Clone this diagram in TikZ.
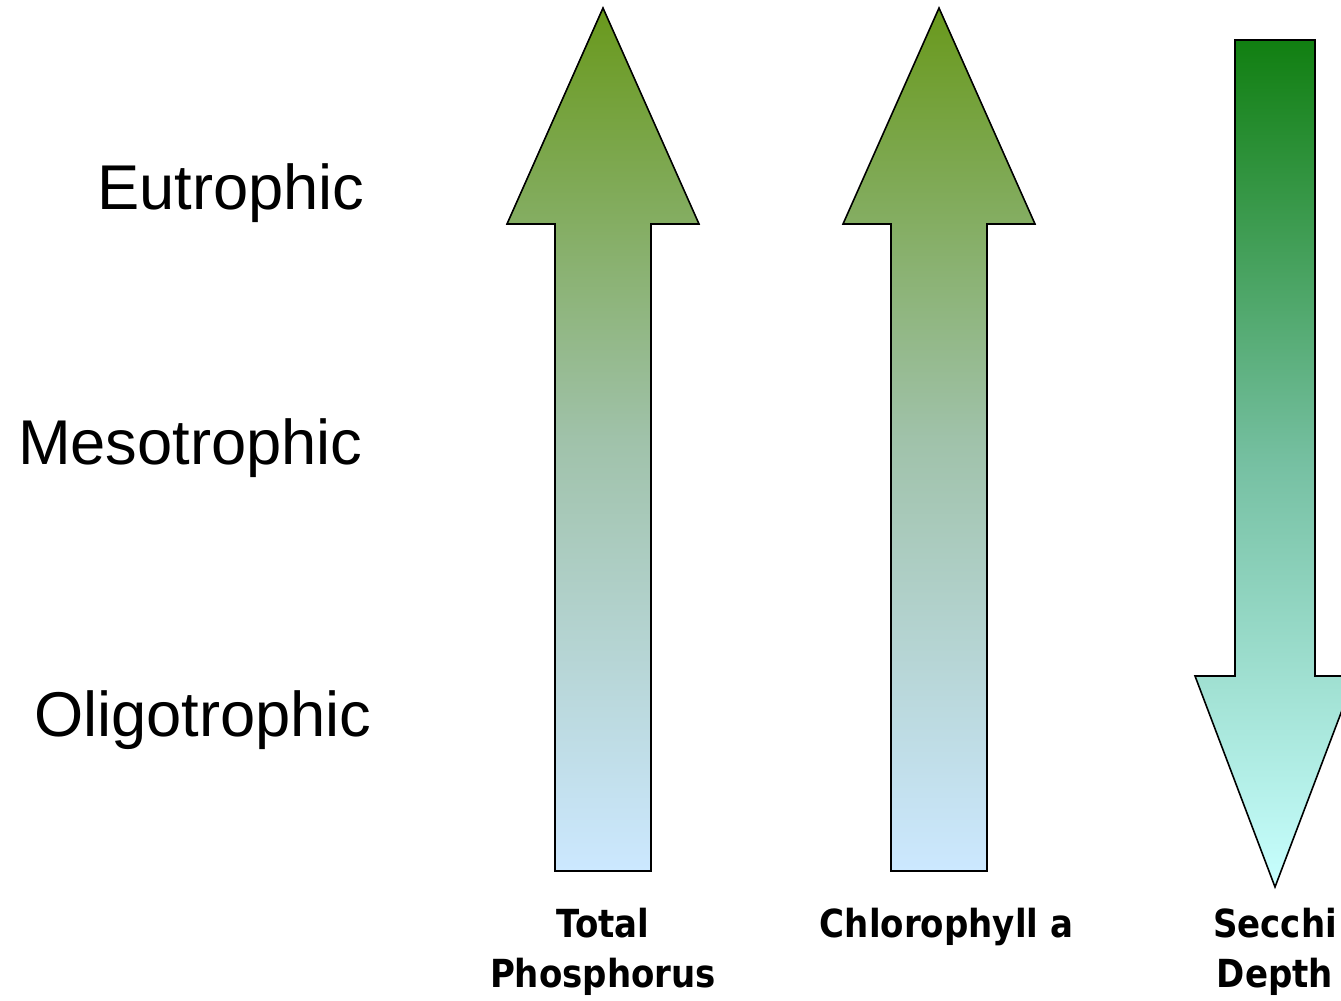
\documentclass[tikz,border=0pt]{standalone}
\usepackage{fontspec}
\setmainfont{Liberation Sans}
\newfontfamily\etiqueta[FakeStretch=0.88]{DejaVu Sans}
\definecolor{verdeoliva}{RGB}{105,153,28}
\definecolor{grisverde}{RGB}{160,194,170}
\definecolor{azulclaro}{RGB}{204,232,255}
\definecolor{verdeosc}{RGB}{17,127,17}
\definecolor{verdeagua}{RGB}{118,192,162}
\definecolor{cianclaro}{RGB}{200,255,255}

\begin{document}
\begin{tikzpicture}[
    flecha/.style={draw=black, line width=0.9pt, line join=miter},
    subida/.style={flecha, top color=verdeoliva, bottom color=azulclaro, middle color=grisverde},
    bajada/.style={flecha, top color=verdeosc, bottom color=cianclaro, middle color=verdeagua},
    estado/.style={anchor=base east, inner sep=0pt, font=\fontsize{36}{43}\selectfont},
    magnitud/.style={anchor=north, align=center, inner sep=0pt,
        font=\etiqueta\bfseries\fontsize{22}{28.5}\selectfont}
]
        % Marco de la figura
        \useasboundingbox (0, 0) rectangle (26.82, 20);
        \clip (0, 0) rectangle (26.82, 20);

        % Estados tróficos
        \node[estado] (eutro) at (7.30, 15.80) {Eutrophic};
        \node[estado] (meso) at (7.26, 10.70) {Mesotrophic};
        \node[estado] (oligo) at (7.44, 5.28) {Oligotrophic};

        % Flecha del fósforo total
        \path[subida] (11.10, 2.58) -- (11.10, 15.52) -- (10.14, 15.52) -- (12.06, 19.84)
            -- (13.98, 15.52) -- (13.02, 15.52) -- (13.02, 2.58) -- cycle;

        % Flecha de la clorofila
        \path[subida] (17.82, 2.58) -- (17.82, 15.52) -- (16.86, 15.52) -- (18.78, 19.84)
            -- (20.70, 15.52) -- (19.74, 15.52) -- (19.74, 2.58) -- cycle;

        % Flecha de la profundidad de Secchi
        \path[bajada] (24.70, 19.20) -- (24.70, 6.48) -- (23.90, 6.48) -- (25.50, 2.26)
            -- (27.10, 6.48) -- (26.30, 6.48) -- (26.30, 19.20) -- cycle;

        % Magnitudes medidas
        \node[magnitud] (fosforo) at (12.06, 1.84) {Total\\Phosphorus};
        \node[magnitud] (clorofila) at (18.93, 1.84) {Chlorophyll a};
        \node[magnitud] (secchi) at (25.50, 1.84) {Secchi\\Depth};
\end{tikzpicture}
\end{document}
